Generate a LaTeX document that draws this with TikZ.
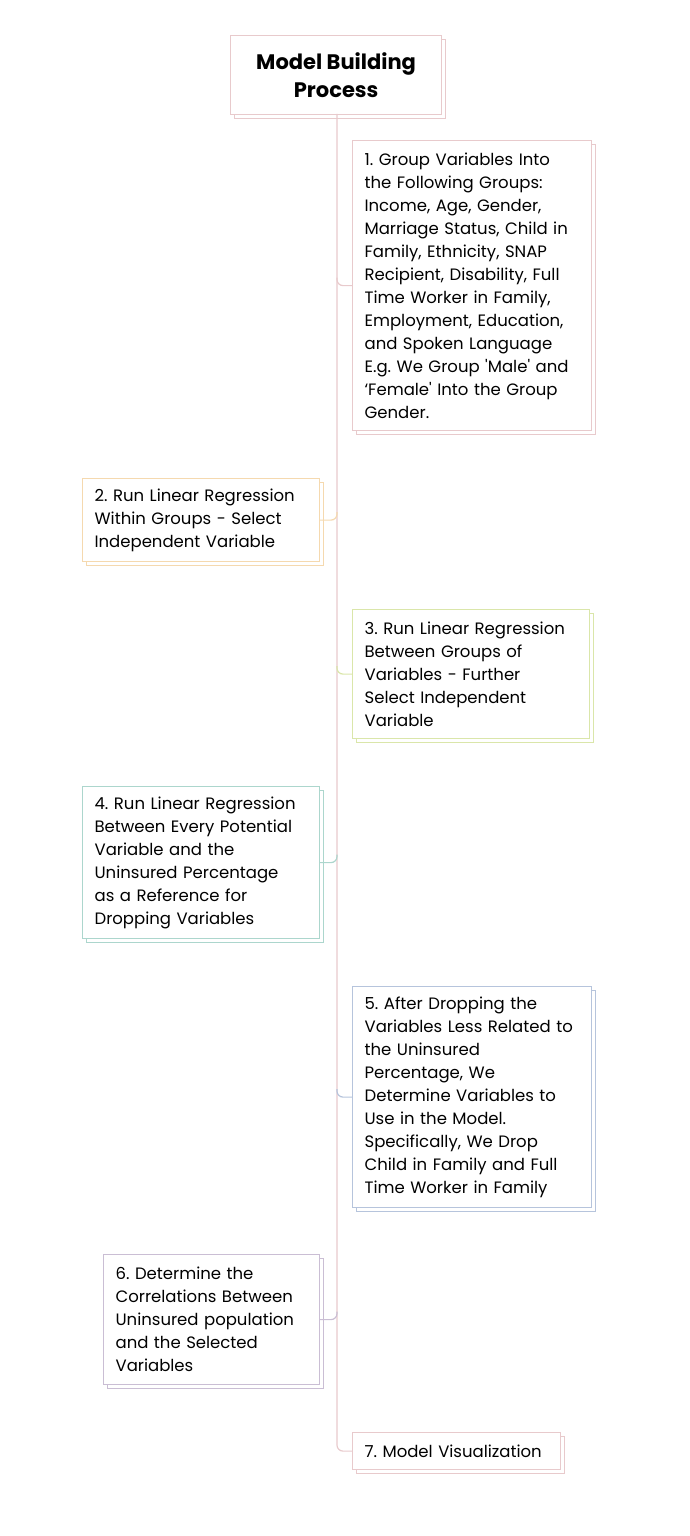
\documentclass[tikz,border=0pt]{standalone}
\usepackage{fontspec}
\setmainfont{Poppins}
\frenchspacing
\usetikzlibrary{shadows}
\definecolor{pinkline}{RGB}{232,202,204}
\definecolor{orangeline}{RGB}{245,217,175}
\definecolor{greenline}{RGB}{218,230,170}
\definecolor{tealline}{RGB}{172,214,205}
\definecolor{blueline}{RGB}{182,196,220}
\definecolor{purpleline}{RGB}{202,190,212}
\tikzset{
  stepbox/.style={draw=#1, fill=white, line width=1.2pt, anchor=north west,
    align=left, inner xsep=12pt, inner ysep=0pt,
    font=\fontsize{16.5}{23}\selectfont,
    copy shadow={shadow xshift=4pt, shadow yshift=-4pt, draw=#1, fill=white}},
  branch/.style={draw=#1, line width=1.2pt, rounded corners=6pt}
}
\begin{document}
\begin{tikzpicture}[x=1pt,y=-1pt]
    \useasboundingbox (0,0) rectangle (690,1536);
    % title
    \node[stepbox=pinkline, align=center, minimum width=211pt, minimum height=79pt,
      font=\fontsize{21}{28}\selectfont\bfseries] (title) at (230,35) {Model Building\\Process};
    \coordinate (top) at (337,114);
    % the steps
    \node[stepbox=pinkline, text width=215pt, minimum height=290pt] (s1) at (352,140)
      {1. Group Variables Into\\the Following Groups:\\Income, Age, Gender,\\Marriage Status, Child in\\Family, Ethnicity, SNAP\\Recipient, Disability, Full\\Time Worker in Family,\\Employment, Education,\\and Spoken Language\\E.g. We Group \textquotesingle Male\textquotesingle\ and\\‘Female\textquotesingle\ Into the Group\\Gender.};
    \node[stepbox=orangeline, text width=213pt, minimum height=83pt] (s2) at (82,478)
      {2. Run Linear Regression\\Within Groups - Select\\Independent Variable};
    \node[stepbox=greenline, text width=213pt, minimum height=129pt] (s3) at (352,609)
      {3. Run Linear Regression\\Between Groups of\\Variables - Further\\Select Independent\\Variable};
    \node[stepbox=tealline, text width=213pt, minimum height=152pt] (s4) at (82,786)
      {4. Run Linear Regression\\Between Every Potential\\Variable and the\\Uninsured Percentage\\as a Reference for\\Dropping Variables};
    \node[stepbox=blueline, text width=215pt, minimum height=221pt] (s5) at (352,986)
      {5. After Dropping the\\Variables Less Related to\\the Uninsured\\Percentage, We\\Determine Variables to\\Use in the Model.\\Specifically, We Drop\\Child in Family and Full\\Time Worker in Family};
    \node[stepbox=purpleline, text width=192pt, minimum height=130pt] (s6) at (103,1254)
      {6. Determine the\\Correlations Between\\Uninsured population\\and the Selected\\Variables};
    \node[stepbox=pinkline, text width=184pt, minimum height=37pt] (s7) at (352,1432)
      {7. Model Visualization};
    % trunk and branches
    \draw[branch=pinkline] (top) |- (s7.west);
    \foreach \s/\c in {s1/pinkline, s3/greenline, s5/blueline}{
      \draw[branch=\c] ([yshift=8pt]\s.west -| top) |- (\s.west);
    }
    \foreach \s/\c in {s2/orangeline, s4/tealline, s6/purpleline}{
      \draw[branch=\c] ([yshift=8pt]\s.east -| top) |- (\s.east);
    }
\end{tikzpicture}
\end{document}
